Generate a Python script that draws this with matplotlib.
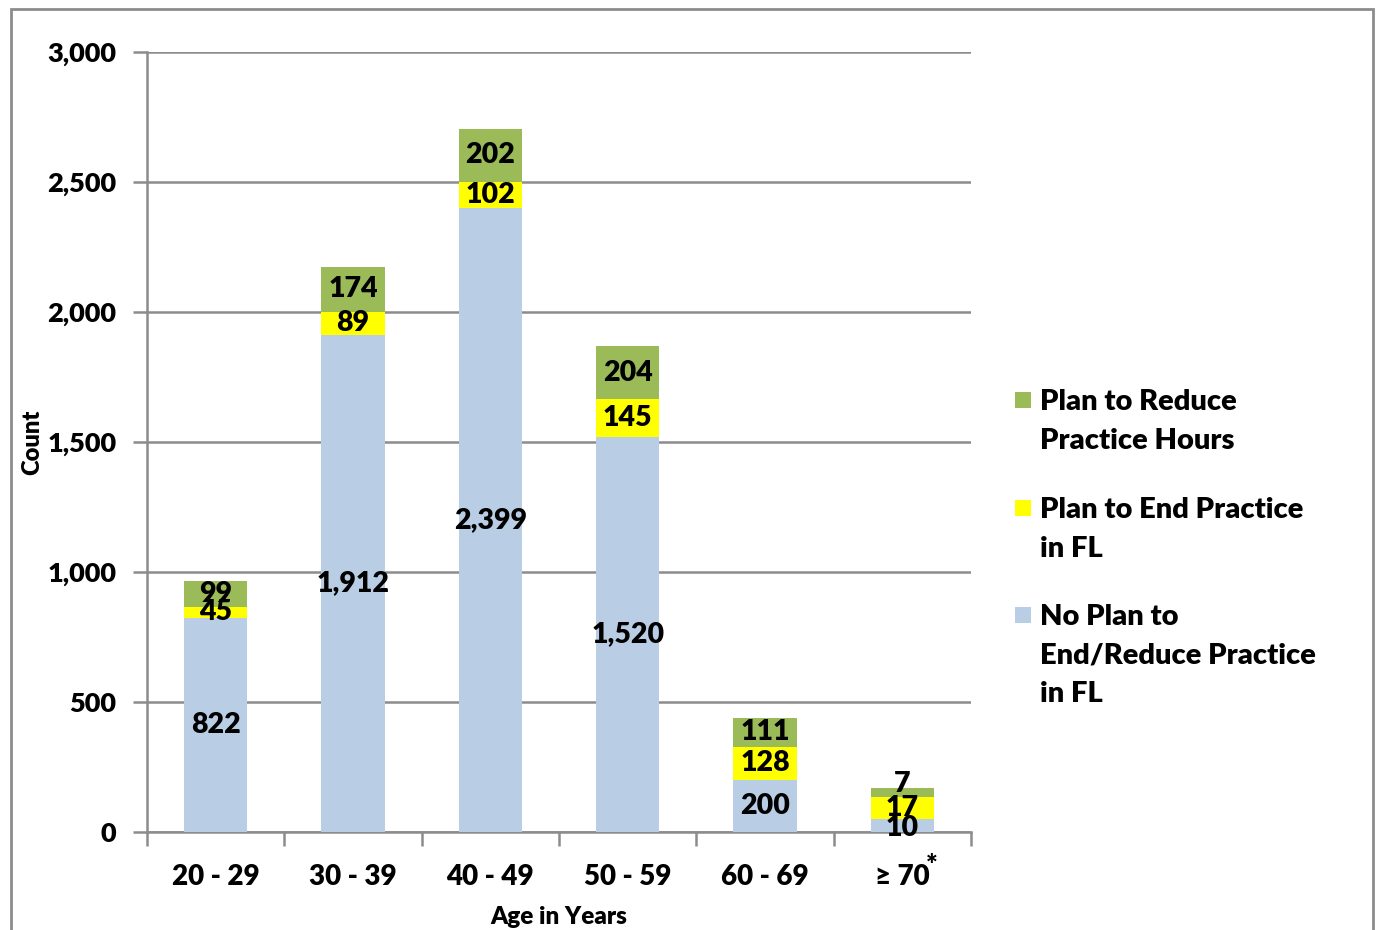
import matplotlib.pyplot as plt
from matplotlib.patches import Rectangle
from matplotlib.ticker import FuncFormatter

plt.rcParams['font.family'] = ['Lato', 'DejaVu Sans']
plt.rcParams['font.weight'] = 'heavy'

ages = ['20 - 29', '30 - 39', '40 - 49', '50 - 59', '60 - 69', '≥ 70']
# counts shown as labels
no_plan = [822, 1912, 2399, 1520, 200, 10]
plan_end = [45, 89, 102, 145, 128, 17]
plan_reduce = [99, 174, 202, 204, 111, 7]
# drawn heights (the ≥ 70* group is drawn enlarged in the source chart)
no_plan_h = [822, 1912, 2399, 1520, 200, 50]
plan_end_h = [45, 89, 102, 145, 128, 85]
plan_reduce_h = [99, 174, 202, 204, 111, 35]

legend_labels = ['Plan to Reduce\nPractice Hours',
                 'Plan to End Practice\nin FL',
                 'No Plan to\nEnd/Reduce Practice\nin FL']

c_blue = '#B9CDE5'
c_yellow = '#FFFF00'
c_green = '#9BBB59'
grid_c = '#8C8C8C'
fw = 'heavy'

fig = plt.figure(figsize=(13.77, 9.3), dpi=100)
ax = fig.add_axes([147/1377, 1 - 832/930, (971-147)/1377, (832-52)/930])

x = range(len(ages))
w = 0.46
b1 = ax.bar(x, no_plan_h, w, color=c_blue, zorder=3)
b2 = ax.bar(x, plan_end_h, w, bottom=no_plan_h, color=c_yellow, zorder=3)
bot3 = [a + b for a, b in zip(no_plan_h, plan_end_h)]
b3 = ax.bar(x, plan_reduce_h, w, bottom=bot3, color=c_green, zorder=3)

for bars, vals in [(b1, no_plan), (b2, plan_end), (b3, plan_reduce)]:
    txts = ax.bar_label(bars, labels=[f'{v:,}' for v in vals], label_type='center',
                        fontsize=20.5, fontweight=fw, zorder=4)
    if bars is b3:
        txts[-1].xyann = (0, 6)
    if bars is b1:
        txts[-1].xyann = (0, -2)

ax.set_xlim(-0.5, len(ages) - 0.5)
ax.set_ylim(0, 3000)
ax.set_yticks(range(0, 3001, 500))
ax.yaxis.set_major_formatter(FuncFormatter(lambda v, p: f'{int(v):,}'))
ax.yaxis.grid(True, color=grid_c, linewidth=1.8, zorder=0)
ax.set_xticks(list(x))
ax.set_xticklabels(ages)
ax.set_xticks([i - 0.5 for i in range(len(ages) + 1)], minor=True)
ax.tick_params(axis='x', which='major', length=0, pad=23, labelsize=20)
ax.tick_params(axis='x', which='minor', length=10, width=1.8, color=grid_c, direction='out')
ax.tick_params(axis='y', length=10, width=1.8, color=grid_c, pad=12, labelsize=19.5)

for s in ['top', 'right']:
    ax.spines[s].set_visible(False)
for s in ['left', 'bottom']:
    ax.spines[s].set_color(grid_c)
    ax.spines[s].set_linewidth(1.8)

ax.annotate('*', xy=(5, 0), xycoords=('data', 'axes fraction'), xytext=(21, -15),
            textcoords='offset points', fontsize=20, fontweight=fw, ha='center', va='top')

ax.set_ylabel('Count', fontsize=17, fontweight=fw)
ax.yaxis.set_label_coords(-0.1396, 0.5)
ax.yaxis.label.set_va('center')
ax.set_xlabel('Age in Years', fontsize=17.5, fontweight=fw)
ax.xaxis.set_label_coords(0.5, -0.109)
ax.xaxis.label.set_va('center')

# legend drawn by hand so the swatch sits on the first text line
colors = [c_green, c_yellow, c_blue]
rows = [400, 508, 615]
for col, lab, yy in zip(colors, legend_labels, rows):
    fig.add_artist(Rectangle((1015/1377, 1 - (yy + 8)/930), 16/1377, 16/930,
                             transform=fig.transFigure, facecolor=col, edgecolor='none'))
    fig.text(1040/1377, 1 - (yy - 11)/930, lab, fontsize=21, fontweight=fw,
             va='top', ha='left', linespacing=1.6)

fig.add_artist(Rectangle((11/1377, -0.05), (1373-11)/1377, 1.05 - 9/930,
                         transform=fig.transFigure, fill=False, edgecolor='#8C8C8C', linewidth=2))

fig.savefig('out.png', dpi=100)
